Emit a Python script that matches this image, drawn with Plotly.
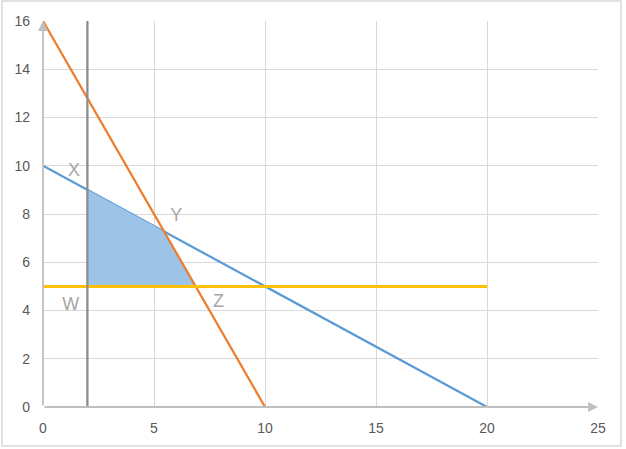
import plotly.graph_objects as go

# Data
blue_x = [0, 20]
blue_y = [10, 0]
orange_x = [0, 10]
orange_y = [16, 0]
grey_x = [2, 2]
grey_y = [0, 16]
yellow_x = [0, 20]
yellow_y = [5, 5]
region_x = [2, 2, 5.4545, 6.875, 2]
region_y = [5, 9, 7.2727, 5, 5]
label_text = ["X", "Y", "Z", "W"]
label_x = [1.4, 6.0, 7.9, 1.25]
label_y = [9.75, 7.9, 4.33, 4.22]
x_ticks = [0, 5, 10, 15, 20, 25]
y_ticks = [0, 2, 4, 6, 8, 10, 12, 14, 16]

fig = go.Figure()
fig.add_trace(go.Scatter(x=blue_x, y=blue_y, mode="lines",
                         line=dict(color="#5b9bd5", width=2.25), hoverinfo="skip"))
fig.add_trace(go.Scatter(x=region_x, y=region_y, mode="lines", fill="toself",
                         fillcolor="#9dc3e6", line=dict(color="#9dc3e6", width=0.5),
                         hoverinfo="skip"))
fig.add_trace(go.Scatter(x=orange_x, y=orange_y, mode="lines",
                         line=dict(color="#ed7d31", width=2.25), hoverinfo="skip"))
fig.add_trace(go.Scatter(x=yellow_x, y=yellow_y, mode="lines",
                         line=dict(color="#ffc000", width=3), hoverinfo="skip"))
fig.add_trace(go.Scatter(x=grey_x, y=grey_y, mode="lines",
                         line=dict(color="#8c8c8c", width=2.25), hoverinfo="skip"))
fig.add_trace(go.Scatter(x=label_x, y=label_y, mode="text", text=label_text,
                         textfont=dict(family="Liberation Sans", size=18, color="#a6a6a6"),
                         hoverinfo="skip"))

axis_common = dict(showgrid=True, gridcolor="#d9d9d9", gridwidth=1.3,
                   zeroline=False, showline=False, ticks="", automargin=False,
                   tickfont=dict(family="Liberation Sans", size=14, color="#595959"))
fig.update_xaxes(range=[0, 25], tickvals=x_ticks, ticktext=[str(v) for v in x_ticks],
                 ticklabelstandoff=11, **axis_common)
fig.update_yaxes(range=[0, 16], tickvals=y_ticks, ticktext=[str(v) for v in y_ticks],
                 ticklabelstandoff=12, **axis_common)

# axis lines with arrowheads
fig.add_annotation(x=25, y=0, ax=0, ay=0, xref="x", yref="y", axref="x", ayref="y",
                   showarrow=True, arrowhead=2, arrowsize=1.1, arrowwidth=1.8,
                   arrowcolor="#bfbfbf", text="")
fig.add_annotation(x=0, y=16, ax=0, ay=0, xref="x", yref="y", axref="x", ayref="y",
                   showarrow=True, arrowhead=2, arrowsize=1.1, arrowwidth=1.8,
                   arrowcolor="#bfbfbf", text="")

# chart border
fig.add_shape(type="rect", xref="paper", yref="paper",
              x0=-0.0739, x1=1.0414, y0=-0.101, y1=1.0518,
              line=dict(color="#d9d9d9", width=1.5), layer="below")

fig.update_layout(width=626, height=449, showlegend=False,
                  margin=dict(l=43, r=28, t=21, b=42, autoexpand=False),
                  plot_bgcolor="white", paper_bgcolor="white")

fig.write_html("out.html", config={"displayModeBar": False},
               post_script="document.body.style.margin='0';document.body.style.padding='0';")
